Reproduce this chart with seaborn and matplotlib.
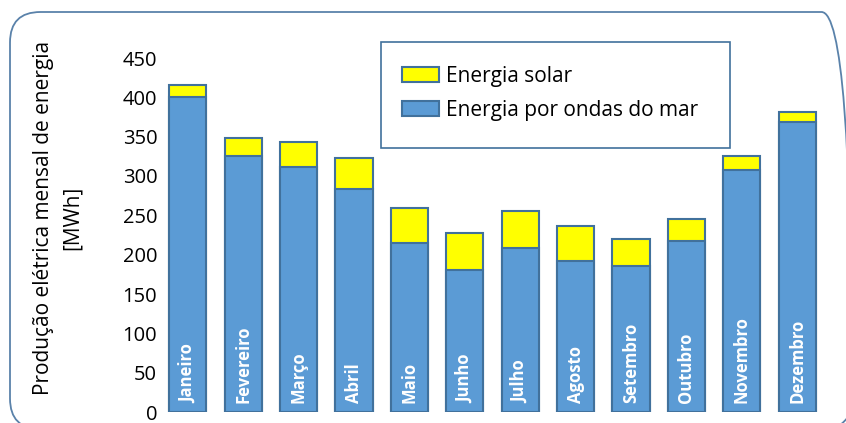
import matplotlib
matplotlib.use("Agg")
import matplotlib.pyplot as plt
import seaborn as sns
import pandas as pd
from matplotlib.patches import Patch, FancyBboxPatch, Rectangle

months = ["Janeiro", "Fevereiro", "Março", "Abril", "Maio", "Junho", "Julho",
          "Agosto", "Setembro", "Outubro", "Novembro", "Dezembro"]
wave = [400, 326, 311, 284, 215, 181, 208, 192, 186, 218, 308, 369]
solar = [16, 22, 32, 39, 44, 47, 48, 44, 34, 27, 17, 12]
yticks = [0, 50, 100, 150, 200, 250, 300, 350, 400, 450]

total = [w + s for w, s in zip(wave, solar)]
df = pd.DataFrame({"mes": months, "ondas": wave, "total": total})

sns.set_theme(style="white")
plt.rcParams["font.family"] = ["Open Sans", "DejaVu Sans"]
plt.rcParams["text.color"] = "black"
plt.rcParams["ytick.color"] = "black"

fig = plt.figure(figsize=(8.46, 4.23), dpi=100)
ax = fig.add_axes([160 / 846, 1 - 412 / 423, (825 - 160) / 846, (412 - 58) / 423])

blue = "#5B9BD5"
yellow = "#FFFF00"
edge = "#41719C"
sns.barplot(data=df, x="mes", y="total", color=yellow, edgecolor=edge,
            linewidth=1.5, width=0.67, saturation=1, ax=ax)
sns.barplot(data=df, x="mes", y="ondas", color=blue, edgecolor=edge,
            linewidth=1.5, width=0.67, saturation=1, ax=ax)

for i, m in enumerate(months):
    ax.text(i, 12, m, rotation=90, ha="center", va="bottom", color="white",
            fontsize=12, fontweight="bold")

ax.set_ylim(0, 450)
ax.set_xlim(-0.5, 11.5)
ax.set_yticks(yticks)
ax.set_yticklabels([str(t) for t in yticks], fontsize=14.5)
ax.set_xticks([])
ax.set_xlabel("")
ax.set_ylabel("")
ax.tick_params(axis="y", length=0, pad=2)
for s in ax.spines.values():
    s.set_visible(False)

fig.text(44 / 846, 1 - 218 / 423, "Produção elétrica mensal de energia",
         rotation=90, ha="center", va="center", fontsize=15)
fig.text(72 / 846, 1 - 218 / 423, "[MWh]",
         rotation=90, ha="center", va="center", fontsize=15)

# legend frame drawn separately
frame = Rectangle((381 / 846, 1 - 148 / 423), (730 - 381) / 846, (148 - 42) / 423,
                  transform=fig.transFigure, facecolor="white", edgecolor=edge,
                  linewidth=1.2, zorder=5)
fig.patches.append(frame)

handles = [Patch(facecolor=yellow, edgecolor=edge, linewidth=1.5),
           Patch(facecolor=blue, edgecolor=edge, linewidth=1.5)]
leg = fig.legend(handles, ["Energia solar", "Energia por ondas do mar"],
                 loc="upper left", bbox_to_anchor=(402 / 846, 1 - 66 / 423),
                 fontsize=15, frameon=False,
                 borderpad=0, labelspacing=0.62, handlelength=1.78,
                 handleheight=0.7, handletextpad=0.35, borderaxespad=0)
leg.set_zorder(6)

box = FancyBboxPatch((10 / 846, -6 / 423), 842 / 846, (423 - 12 + 6) / 423,
                     boxstyle="round,pad=0,rounding_size=0.036",
                     transform=fig.transFigure, facecolor="none",
                     edgecolor="#5A82AA", linewidth=1.3,
                     mutation_aspect=2.0)
fig.patches.append(box)

fig.savefig("out.png", dpi=100)
